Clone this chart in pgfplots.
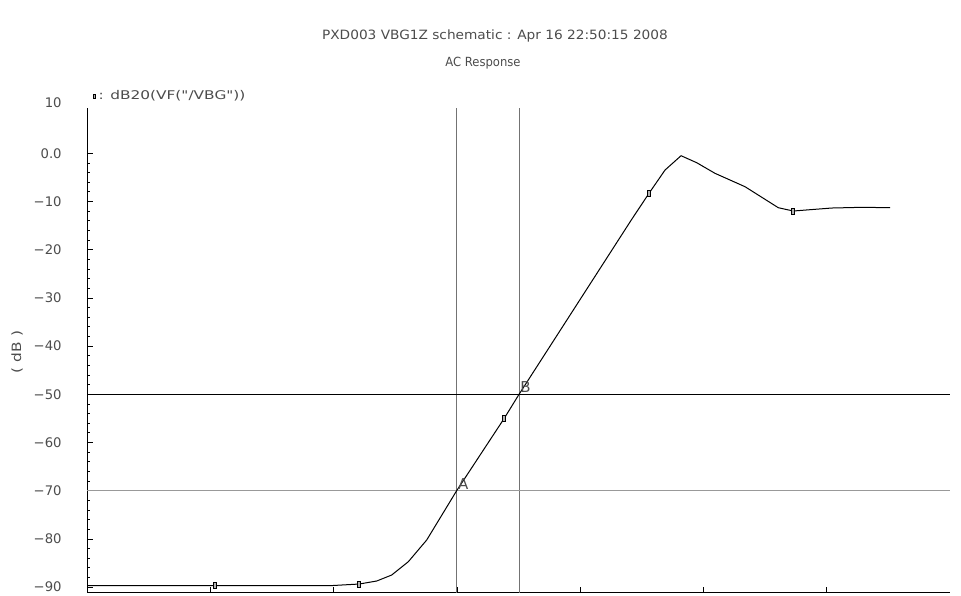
\documentclass[border=0pt]{standalone}
\usepackage{fontspec}
\setmainfont{DejaVu Sans}
\newfontfamily\plainfont{DejaVu Sans}
\usepackage{graphicx}
\usepackage{pgfplots}
\pgfplotsset{compat=1.18}
\definecolor{txt}{gray}{0.3}
\begin{document}
\begin{tikzpicture}
\useasboundingbox (0,0) rectangle (480.5pt,297.5pt);
\begin{axis}[
    at={(43.5pt,1.15pt)}, anchor=south west,
    scale only axis,
    width=431.55pt, height=242.35pt,
    xmin=0, xmax=7,
    ymin=-91.16, ymax=9.4,
    axis x line*=bottom, axis y line*=left,
    axis line style={black, line width=0.5pt},
    xtick={1,2,3,4,5,6}, xticklabels={},
    ytick={-90,-80,-70,-60,-50,-40,-30,-20,-10,0},
    yticklabels={−90,−80,−70,−60,−50,−40,−30,−20,−10,0.0},
    minor y tick num=4,
    tick align=inside,
    major tick length=3pt, minor tick length=1.5pt,
    tick style={black, line width=0.4pt},
    yticklabel style={font=\fontsize{6.6}{7}\selectfont, text=txt,
        anchor=east, inner sep=0pt, xshift=-12.5pt},
    legend style={at={(rel axis cs:0.007,1.024)}, anchor=west,
        draw=none, fill=none, inner sep=0pt, outer sep=0pt,
        font=\plainfont\fontsize{6}{7}\selectfont, text=txt,
        nodes={inner sep=1.2pt}},
    legend image code/.code={
        \draw[black, line width=0.4pt, fill=black!30] (-0.6pt,-1.2pt) rectangle (0.6pt,1.2pt);},
    clip=false,
]

% cursors
\addplot[black!55, line width=0.5pt, forget plot] coordinates {(2.998,-91.16)(2.998,9.4)};
\addplot[black!55, line width=0.5pt, forget plot] coordinates {(3.504,-91.16)(3.504,9.4)};
\addplot[black!40, line width=0.5pt, forget plot] coordinates {(0,-70)(7,-70)};
\addplot[black, line width=0.5pt, forget plot] coordinates {(0,-50)(7,-50)};

% dB20(VF("/VBG"))
\addplot[black, line width=0.5pt, forget plot] coordinates {
    (0,-89.7)(1.038,-89.7)(1.971,-89.7)(2.208,-89.36)(2.350,-88.73)
    (2.471,-87.49)(2.606,-84.73)(2.755,-80.23)(2.903,-74.00)(2.998,-70.0)
    (3.384,-54.98)(3.504,-50.0)(4.418,-13.69)(4.558,-8.30)(4.688,-3.47)
    (4.818,-0.50)(4.945,-1.95)(5.093,-4.15)(5.337,-6.93)(5.607,-11.29)
    (5.728,-11.97)(6.040,-11.35)(6.294,-11.20)(6.513,-11.29)
};
\addplot[only marks, mark=square*, mark size=1.5pt,
    mark options={xscale=0.5, fill=black!30, draw=black, line width=0.4pt}]
    coordinates {(1.038,-89.7)(2.208,-89.36)(3.384,-54.98)(4.558,-8.30)(5.728,-11.97)};
\addlegendentry{\scalebox{1.28}[1]{: dB20(VF("/VBG"))}}

% top tick label, above the axis end
\node[anchor=east, inner sep=0pt, xshift=-12.5pt, text=txt,
    font=\fontsize{6.6}{7}\selectfont] at (axis cs:0,10.4) {10};

\node[anchor=south west, inner sep=0.5pt, text=black!70,
    font=\fontsize{7.5}{8}\selectfont] at (axis cs:2.998,-70) {A};
\node[anchor=south west, inner sep=0.5pt, text=black!70,
    font=\fontsize{7.5}{8}\selectfont] at (axis cs:3.504,-50) {B};
\end{axis}

\node[text=txt, font=\fontsize{6.4}{7}\selectfont] at (247.5pt,279.5pt)
    {\scalebox{1.07}[1]{PXD003 VBG1Z schematic : Apr 16 22:50:15 2008}};
\node[text=txt, font=\fontsize{6.3}{7}\selectfont] at (241.5pt,266pt)
    {\scalebox{0.92}[1]{AC Response}};
\node[rotate=90, text=txt, font=\fontsize{6.4}{7}\selectfont] at (8.5pt,121.5pt)
    {\scalebox{1.2}[1]{( dB )}};
\end{tikzpicture}
\end{document}
